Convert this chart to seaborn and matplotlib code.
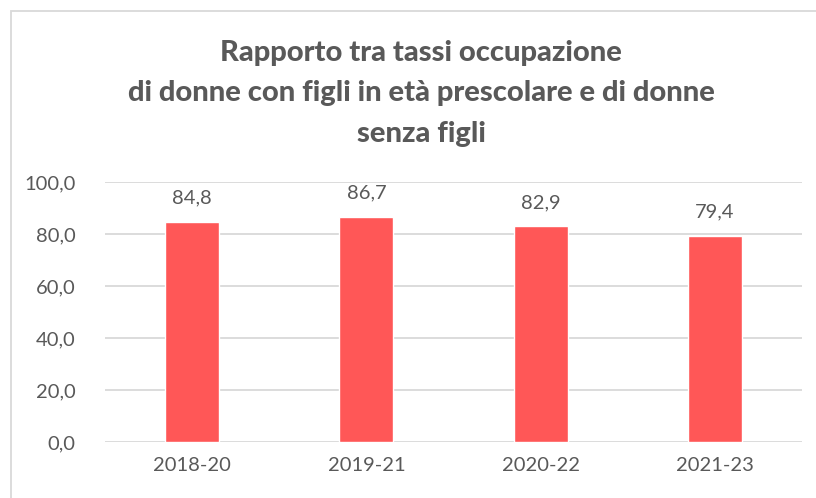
import matplotlib
matplotlib.use("Agg")
import matplotlib.pyplot as plt
import matplotlib.patches as patches
import seaborn as sns
import pandas as pd

# data
periods = ["2018-20", "2019-21", "2020-22", "2021-23"]
ratio = [84.8, 86.7, 82.9, 79.4]
yticks = [0, 20, 40, 60, 80, 100]

title = ("Rapporto tra tassi occupazione\n"
         "di donne con figli in età prescolare e di donne\n"
         "senza figli")

sns.set_theme(style="white")
plt.rcParams["font.family"] = ["Lato", "DejaVu Sans"]

text_col = "#595959"
grid_col = "#D9D9D9"
bar_col = "#FF5757"

df = pd.DataFrame({"period": periods, "ratio": ratio})

fig = plt.figure(figsize=(8.16, 4.98), dpi=100)
ax = fig.add_axes([105 / 816, 56 / 498, 697 / 816, 260 / 498])

sns.barplot(data=df, x="period", y="ratio", color=bar_col, width=0.31,
            saturation=1, ax=ax, zorder=3)

ax.set_ylim(0, 100)
ax.set_yticks(yticks)
ax.set_yticklabels([f"{v:.1f}".replace(".", ",") for v in yticks])
ax.set_xlabel("")
ax.set_ylabel("")
for s in ax.spines.values():
    s.set_visible(False)
ax.grid(axis="y", color=grid_col, linewidth=1.3, zorder=0)
ax.set_axisbelow(True)
ax.tick_params(axis="both", length=0, colors=text_col, labelsize=14.5)
ax.tick_params(axis="x", pad=11)
ax.tick_params(axis="y", pad=21)

labels = [f"{v:.1f}".replace(".", ",") for v in ratio]
ax.bar_label(ax.containers[0], labels=labels, padding=11, fontsize=14.5,
             color=text_col, clip_on=False)

fig.text(421 / 816, 1 - 40 / 498, title, ha="center", va="top",
         fontsize=21, fontweight="black", color=text_col, linespacing=1.68)

# chart border (cut off at right and bottom in the reference)
fig.patches.append(patches.Rectangle((11 / 816, -0.1), 1.0, 487 / 498 + 0.1,
                                     transform=fig.transFigure, fill=False,
                                     edgecolor=grid_col, linewidth=1.3))

fig.savefig("out.png", dpi=100)
